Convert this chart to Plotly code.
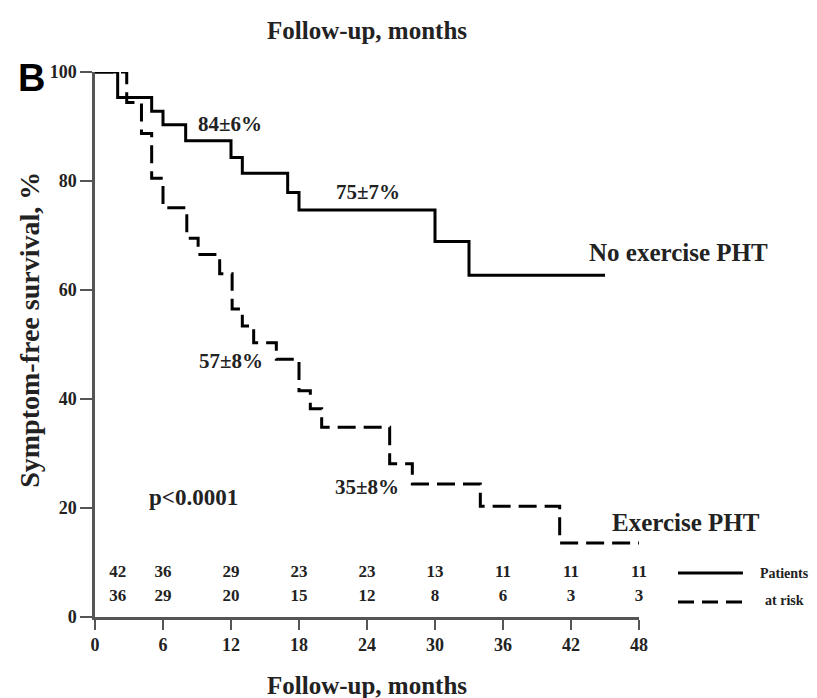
import plotly.graph_objects as go

# ---- data ----
no_ex_months = [0, 2, 5, 6, 8, 12, 13, 17, 18, 30, 33, 45]
no_ex_surv = [100, 95.3, 92.8, 90.3, 87.4, 84.3, 81.4, 77.9, 74.7, 68.9, 62.7, 62.7]

ex_months = [0, 2.8, 4.1, 5, 6, 8.1, 9.1, 11, 12.1, 13, 14, 16, 18, 19, 20, 26, 28, 34, 41, 48]
ex_surv = [100, 94.4, 88.7, 80.5, 75.1, 69.5, 66.5, 63, 56.5, 53.4, 50.3, 47.3, 41.5, 38.2,
           34.8, 28.1, 24.4, 20.3, 13.6, 13.6]

risk_months = [2, 6, 12, 18, 24, 30, 36, 42, 48]
risk_no_ex = [42, 36, 29, 23, 23, 13, 11, 11, 11]
risk_ex = [36, 29, 20, 15, 12, 8, 6, 3, 3]

x_ticks = [0, 6, 12, 18, 24, 30, 36, 42, 48]
y_ticks = [0, 20, 40, 60, 80, 100]

SERIF = "Liberation Serif"
AX = "#555555"
TXT = "#222222"

fig = go.Figure()
fig.add_trace(go.Scatter(x=no_ex_months, y=no_ex_surv, mode="lines", line_shape="hv",
                         line=dict(color="black", width=3), cliponaxis=False,
                         showlegend=False))
fig.add_trace(go.Scatter(x=ex_months, y=ex_surv, mode="lines", line_shape="hv",
                         line=dict(color="black", width=3, dash="18px,8px"), cliponaxis=False,
                         showlegend=False))
# numbers at risk
fig.add_trace(go.Scatter(x=risk_months, y=[8.2] * len(risk_months), mode="text",
                         text=[str(v) for v in risk_no_ex], cliponaxis=False,
                         textfont=dict(family=SERIF, size=17, color=TXT, weight="bold"),
                         showlegend=False))
fig.add_trace(go.Scatter(x=risk_months, y=[3.7] * len(risk_months), mode="text",
                         text=[str(v) for v in risk_ex], cliponaxis=False,
                         textfont=dict(family=SERIF, size=17, color=TXT, weight="bold"),
                         showlegend=False))

bold = lambda s: "<b>" + s + "</b>"
ann = []
def add_text(x, y, s, size, xref="x", yref="y", font=SERIF, textangle=0, color=TXT):
    ann.append(dict(x=x, y=y, xref=xref, yref=yref, text=bold(s), showarrow=False,
                    font=dict(family=font, size=size, color=color), textangle=textangle,
                    xanchor="center", yanchor="middle"))

add_text(11.9, 90.5, "84±6%", 21)
add_text(24.1, 78.0, "75±7%", 21)
add_text(12.0, 47.0, "57±8%", 21)
add_text(24.0, 23.8, "35±8%", 21)
add_text(8.7, 22.0, "p&lt;0.0001", 23)
# curve labels (beyond the axis range -> paper coordinates)
add_text(1.0717, 0.6697, "No exercise PHT", 25, xref="paper", yref="paper")
add_text(1.0864, 0.1743, "Exercise PHT", 25, xref="paper", yref="paper")

# axis titles (top and bottom) and y title
add_text(0.5, 1.077, "Follow-up, months", 25, xref="paper", yref="paper")
add_text(0.5, -0.1248, "Follow-up, months", 25, xref="paper", yref="paper")
add_text(-0.1195, 0.527, "Symptom-free survival, %", 28, xref="paper", yref="paper", textangle=-90)
add_text(-0.117, 0.989, "B", 38, xref="paper", yref="paper", font="Liberation Sans", color="black")

# legend texts
add_text(1.268, 0.0807, "Patients", 14, xref="paper", yref="paper")
add_text(1.268, 0.031, "at risk", 14, xref="paper", yref="paper")

shapes = [
    dict(type="line", xref="paper", yref="paper", x0=1.0717, x1=1.191, y0=0.0807, y1=0.0807,
         line=dict(color="black", width=3)),
    dict(type="line", xref="paper", yref="paper", x0=1.0717, x1=1.191, y0=0.0275, y1=0.0275,
         line=dict(color="black", width=3, dash="16px,8px")),
]

fig.update_layout(
    width=817, height=698,
    margin=dict(l=95, r=178, t=72, b=81),
    plot_bgcolor="white", paper_bgcolor="white",
    annotations=ann, shapes=shapes,
    showlegend=False,
    xaxis=dict(range=[0, 48], tickvals=x_ticks, ticktext=[bold(str(v)) for v in x_ticks],
               showgrid=False, zeroline=False, showline=True, linecolor=AX, linewidth=2.5,
               ticks="outside", ticklen=10, tickwidth=2, tickcolor=AX,
               tickfont=dict(family=SERIF, size=18, color=TXT)),
    yaxis=dict(range=[0, 100], tickvals=y_ticks, ticktext=[bold(str(v)) for v in y_ticks],
               showgrid=False, zeroline=False, showline=True, linecolor=AX, linewidth=2.5,
               ticks="outside", ticklen=12, tickwidth=2, tickcolor=AX,
               tickfont=dict(family=SERIF, size=18, color=TXT)),
)

fig.write_html("out.html")
